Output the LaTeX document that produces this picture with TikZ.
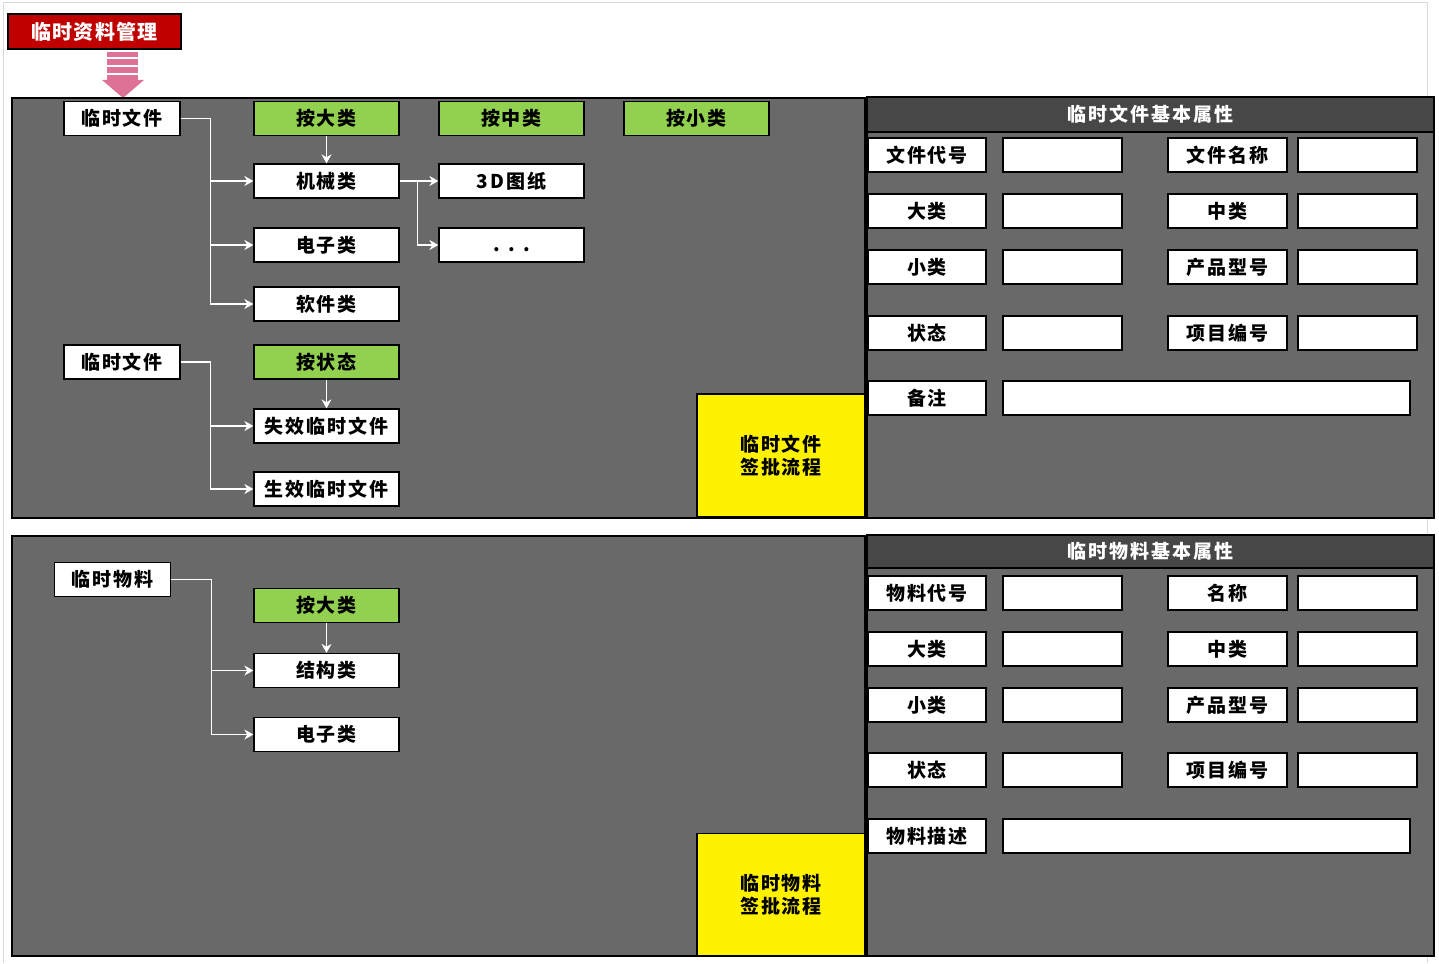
\documentclass[tikz,border=0pt]{standalone}
\usepackage{fontspec}
\newfontfamily\cjk{Noto Sans CJK SC}[LetterSpace=10]
\newfontfamily\cjkt{Noto Sans CJK SC}[LetterSpace=7]
\usetikzlibrary{arrows.meta}
\definecolor{panelgray}{RGB}{105,105,105}
\definecolor{headgray}{RGB}{71,71,71}
\definecolor{framegray}{RGB}{217,217,217}
\definecolor{grn}{RGB}{146,208,80}
\definecolor{titlered}{RGB}{192,0,0}
\definecolor{pink}{RGB}{222,114,150}
\tikzset{
  txt/.style={font=\cjk\bfseries\fontsize{19}{23}\selectfont},
  wbox/.style={txt, draw=black, line width=1.3pt, fill=white, inner sep=0pt,
    minimum width=145pt, minimum height=34pt},
  gbox/.style={wbox, fill=grn},
  lbox/.style={wbox, minimum width=118pt},
  vbox/.style={wbox, minimum width=119pt},
  ybox/.style={txt, draw=black, line width=1.3pt, fill=yellow, inner sep=0pt,
    minimum width=168pt, minimum height=123pt, align=center},
  panel/.style={draw=black, line width=1.3pt, fill=panelgray},
  head/.style={draw=black, line width=1.3pt, fill=headgray},
  conn/.style={draw=white, line width=1.3pt, -{Stealth[length=9pt,width=10pt]}},
}
\begin{document}
\begin{tikzpicture}[x=1pt,y=-1pt]
\useasboundingbox (0,0) rectangle (1439,963);
% light frame
\draw[framegray, line width=1pt] (3,963) -- (3,3) -- (1427,3) -- (1427,963);
% title
\node[font=\cjkt\bfseries\fontsize{20}{24}\selectfont, draw=black, line width=1.3pt, fill=titlered, text=white, inner sep=0pt,
  minimum width=173pt, minimum height=35pt] (title) at (94.5,31.5) {临时资料管理};
% pink arrow
\fill[pink] (107,52) rectangle (138,57.5);
\fill[pink] (107,59.5) rectangle (138,65.5);
\fill[pink] (107,67.5) rectangle (138,73.5);
\fill[pink] (107,75.5) rectangle (138,80);
\fill[pink] (102,80) -- (144,80) -- (123,98) -- cycle;
% panels
\draw[panel] (12,98) rectangle (865,518);
\draw[panel] (867,97) rectangle (1434,518);
\draw[head] (867,97) rectangle (1434,132);
\draw[panel] (12,536) rectangle (865,956);
\draw[panel] (867,535) rectangle (1434,956);
\draw[head] (867,535) rectangle (1434,568);
\node[txt, text=white] (h1) at (1150.5,114.5) {临时文件基本属性};
\node[txt, text=white] (h2) at (1150.5,551.5) {临时物料基本属性};
% upper-left group
\node[wbox, minimum width=116pt] (f1) at (122,118.5) {临时文件};
\node[gbox] (gbig) at (326.5,118.5) {按大类};
\node[gbox] (gmid) at (511.5,118.5) {按中类};
\node[gbox] (gsmall) at (696.5,118.5) {按小类};
\node[wbox] (jx) at (326.5,181) {机械类};
\node[wbox] (dz) at (326.5,245) {电子类};
\node[wbox] (rj) at (326.5,304) {软件类};
\node[wbox] (d3) at (511.5,181) {3D图纸};
\node[wbox, label={[txt, yshift=-5pt]center:. . .}] (dots) at (511.5,245) {};
\draw[conn] (f1.east) -- ++(30,0) |- (jx.west);
\draw[conn] (f1.east) -- ++(30,0) |- (dz.west);
\draw[conn] (f1.east) -- ++(30,0) |- (rj.west);
\draw[conn] (gbig.south) -- (jx.north);
\draw[conn] (jx.east) -- (d3.west);
\draw[conn] (jx.east) -- ++(18,0) |- (dots.west);
% status group
\node[wbox, minimum width=116pt] (f2) at (122,362) {临时文件};
\node[gbox] (gst) at (326.5,362) {按状态};
\node[wbox] (sx) at (326.5,426) {失效临时文件};
\node[wbox] (sz) at (326.5,489) {生效临时文件};
\draw[conn] (f2.east) -- ++(30,0) |- (sx.west);
\draw[conn] (f2.east) -- ++(30,0) |- (sz.west);
\draw[conn] (gst.south) -- (sx.north);
\node[ybox] (yf) at (781,455.5) {临时文件\\签批流程};
% lower-left group
\node[wbox, minimum width=116pt] (wl) at (112.5,579.5) {临时物料};
\node[gbox] (gbig2) at (326.5,605.5) {按大类};
\node[wbox] (jg) at (326.5,670.5) {结构类};
\node[wbox] (dz2) at (326.5,734.5) {电子类};
\draw[conn] (wl.east) -- ++(40,0) |- (jg.west);
\draw[conn] (wl.east) -- ++(40,0) |- (dz2.west);
\draw[conn] (gbig2.south) -- (jg.north);
\node[ybox, minimum height=122pt] (ym) at (781,894.5) {临时物料\\签批流程};
% upper-right properties
\node[lbox] (a1) at (927,155) {文件代号};
\node[vbox] (a1v) at (1062.5,155) {};
\node[vbox] (a2) at (1227.5,155) {文件名称};
\node[vbox] (a2v) at (1357.5,155) {};
\node[lbox] (b1) at (927,211) {大类};
\node[vbox] (b1v) at (1062.5,211) {};
\node[vbox] (b2) at (1227.5,211) {中类};
\node[vbox] (b2v) at (1357.5,211) {};
\node[lbox] (c1) at (927,267) {小类};
\node[vbox] (c1v) at (1062.5,267) {};
\node[vbox] (c2) at (1227.5,267) {产品型号};
\node[vbox] (c2v) at (1357.5,267) {};
\node[lbox] (d1) at (927,333) {状态};
\node[vbox] (d1v) at (1062.5,333) {};
\node[vbox] (d2) at (1227.5,333) {项目编号};
\node[vbox] (d2v) at (1357.5,333) {};
\node[lbox] (e1) at (927,398) {备注};
\node[wbox, minimum width=407pt] (e1v) at (1206.5,398) {};
% lower-right properties
\node[lbox] (p1) at (927,593) {物料代号};
\node[vbox] (p1v) at (1062.5,593) {};
\node[vbox] (p2) at (1227.5,593) {名称};
\node[vbox] (p2v) at (1357.5,593) {};
\node[lbox] (q1) at (927,649) {大类};
\node[vbox] (q1v) at (1062.5,649) {};
\node[vbox] (q2) at (1227.5,649) {中类};
\node[vbox] (q2v) at (1357.5,649) {};
\node[lbox] (r1) at (927,705) {小类};
\node[vbox] (r1v) at (1062.5,705) {};
\node[vbox] (r2) at (1227.5,705) {产品型号};
\node[vbox] (r2v) at (1357.5,705) {};
\node[lbox] (s1) at (927,770) {状态};
\node[vbox] (s1v) at (1062.5,770) {};
\node[vbox] (s2) at (1227.5,770) {项目编号};
\node[vbox] (s2v) at (1357.5,770) {};
\node[lbox] (t1) at (927,836) {物料描述};
\node[wbox, minimum width=407pt] (t1v) at (1206.5,836) {};
\end{tikzpicture}
\end{document}
